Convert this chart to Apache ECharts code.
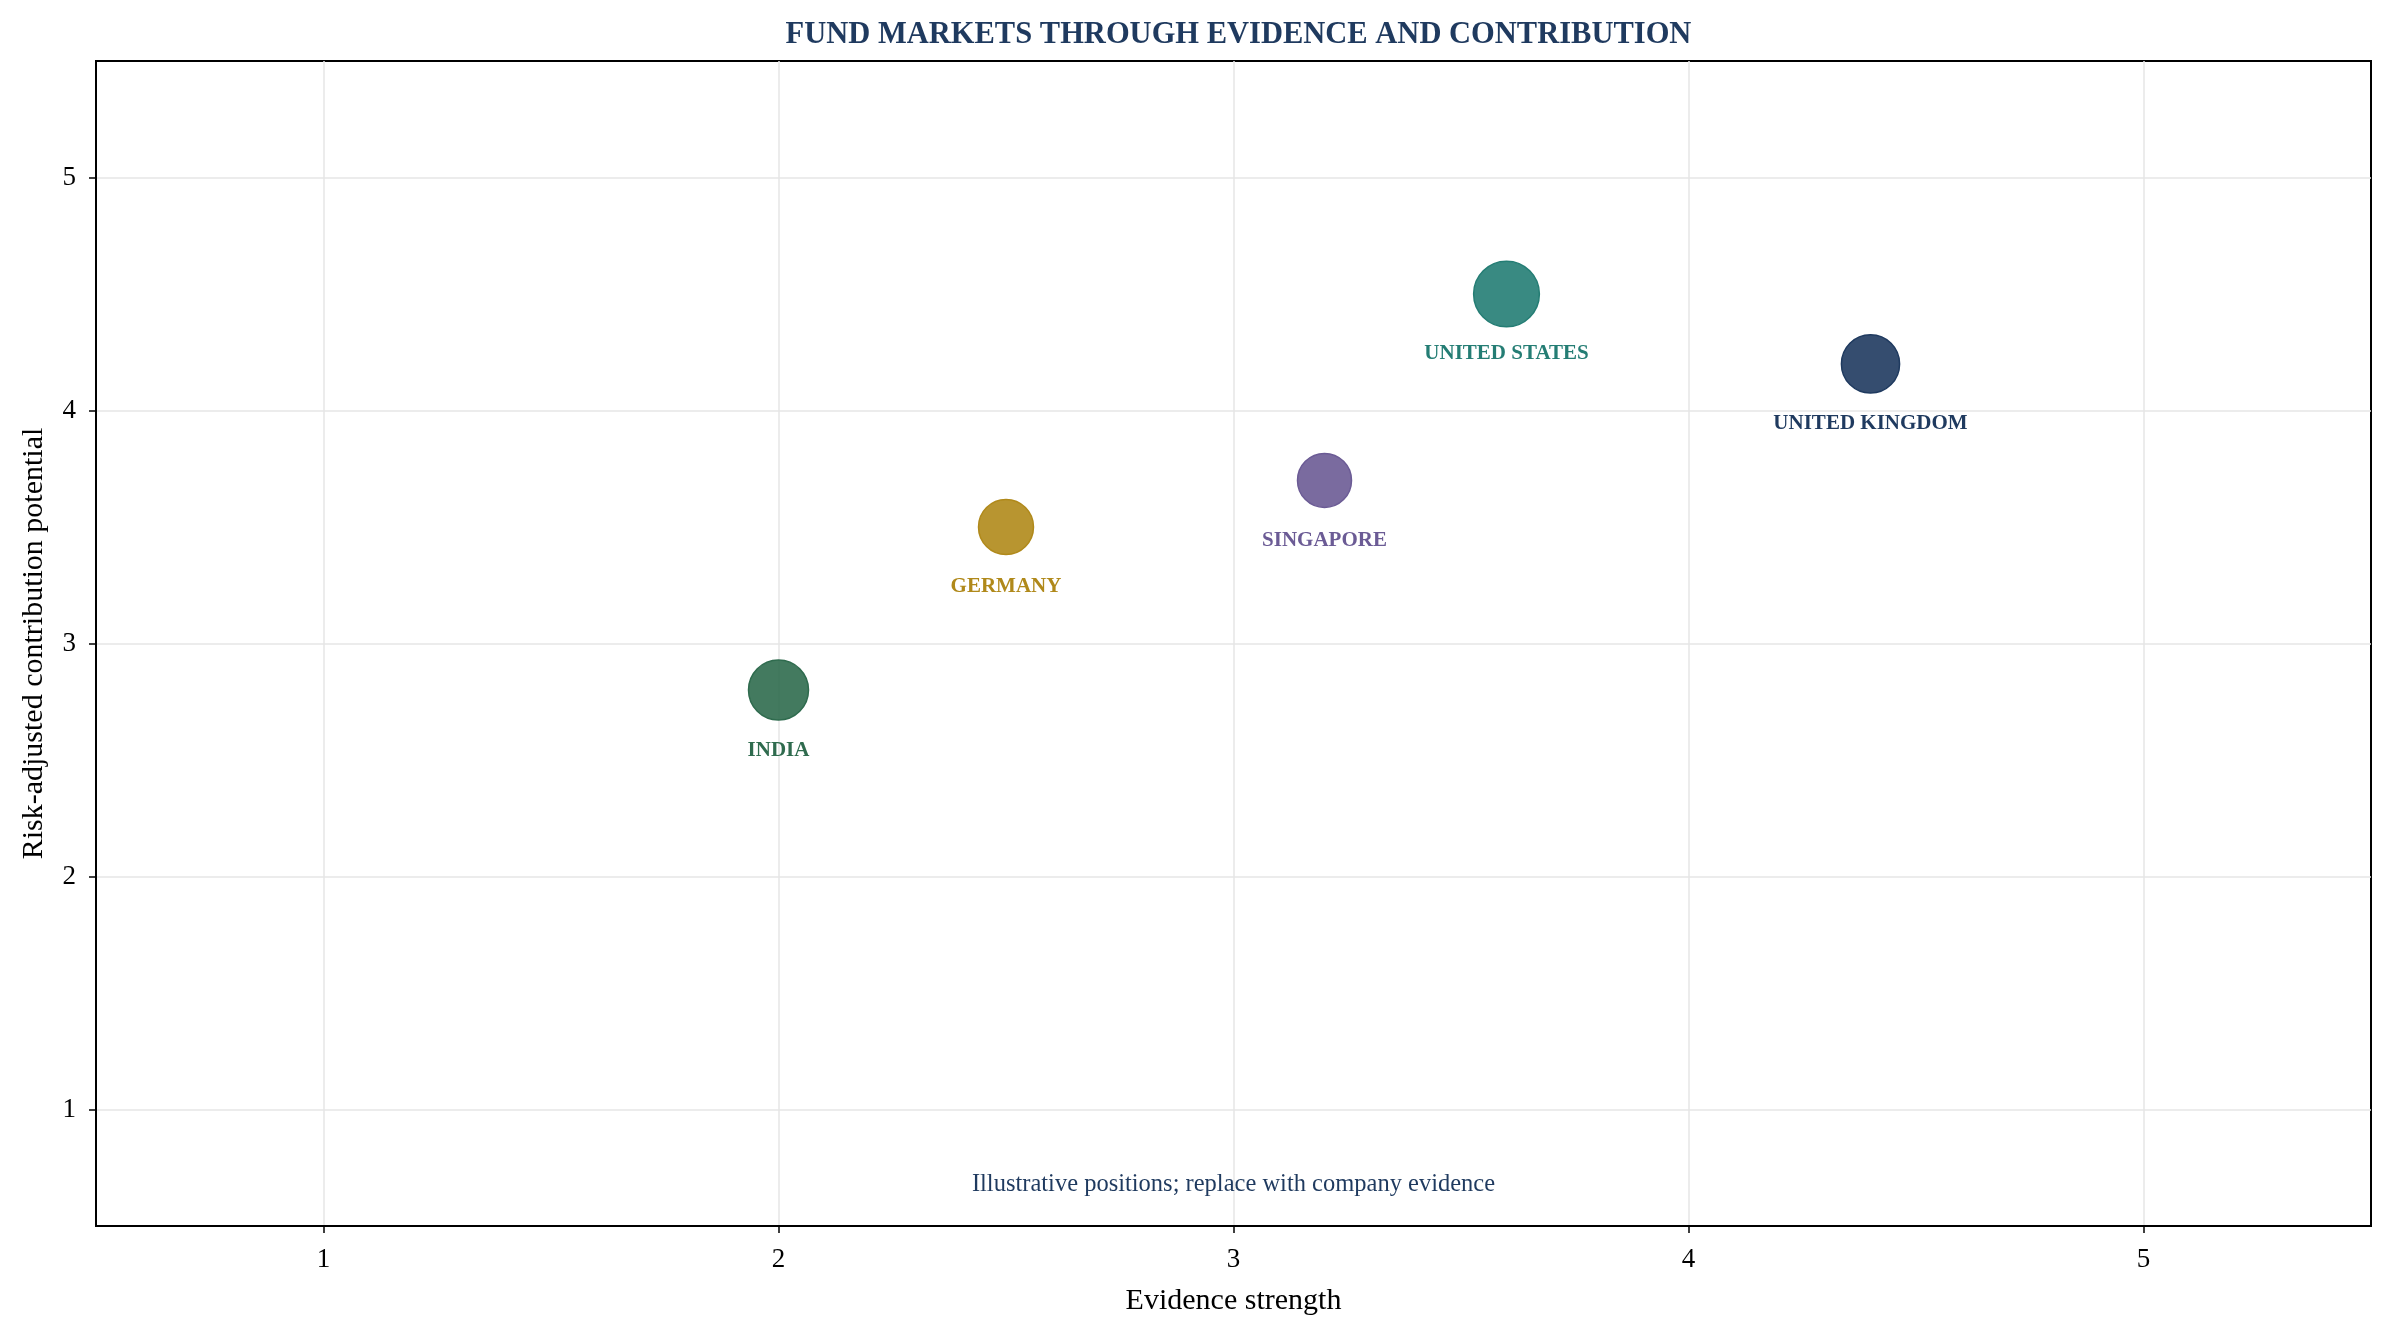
<!DOCTYPE html>
<html>
<head>
<meta charset="utf-8">
<script src="https://cdn.jsdelivr.net/npm/echarts@6/dist/echarts.min.js"></script>
<style>
  html, body { margin: 0; padding: 0; background: #ffffff; }
  #chart { width: 2394px; height: 1336px; }
</style>
</head>
<body>
<div id="chart"></div>
<script>
// ---- data ----
const markets = ['INDIA', 'GERMANY', 'SINGAPORE', 'UNITED STATES', 'UNITED KINGDOM'];
const evidenceStrength = [2.0, 2.5, 3.2, 3.6, 4.4];
const contributionPotential = [2.8, 3.5, 3.7, 4.5, 4.2];
const marketWeight = [100, 84, 81, 120, 94];
const marketColors = ['#2f6b4e', '#b0891a', '#6b5b95', '#247d74', '#1f3a5f'];
const tickValues = [1, 2, 3, 4, 5];

const titleText = 'FUND MARKETS THROUGH EVIDENCE AND CONTRIBUTION';
const xName = 'Evidence strength';
const yName = 'Risk-adjusted contribution potential';
const noteText = 'Illustrative positions; replace with company evidence';

const FONT = "'Liberation Serif', 'Times New Roman', Times, serif";
const NAVY = '#1f3a5f';
const PLOT_CENTER_X = (96 + 2371) / 2;

const chart = echarts.init(document.getElementById('chart'), null, { renderer: 'canvas' });

const points = markets.map((m, i) => ({
  name: m,
  value: [evidenceStrength[i], contributionPotential[i], marketWeight[i]],
  itemStyle: {
    color: echarts.color.modifyAlpha(marketColors[i], 0.9),
    borderColor: marketColors[i],
    borderWidth: 1.5,
    opacity: 1
  },
  label: { color: marketColors[i] }
}));

function axisCommon(name, nameGap, labelMargin) {
  return {
    type: 'value',
    min: 0.5,
    max: 5.5,
    name: name,
    nameLocation: 'middle',
    nameGap: nameGap,
    nameTextStyle: { fontFamily: FONT, fontSize: 30, color: '#000' },
    axisLine: { show: true, onZero: false, lineStyle: { color: '#000', width: 2 } },
    axisTick: {
      show: true, inside: false, length: 7,
      lineStyle: { color: '#000', width: 1.5 },
      customValues: tickValues
    },
    axisLabel: {
      fontFamily: FONT, fontSize: 27, color: '#000', margin: labelMargin,
      customValues: tickValues,
      formatter: v => String(v)
    },
    splitLine: { show: true, lineStyle: { color: '#e6e6e6', width: 1.5 } }
  };
}

const option = {
  backgroundColor: '#ffffff',
  animation: false,
  title: {
    text: titleText,
    left: PLOT_CENTER_X,
    textAlign: 'center',
    top: 15,
    textStyle: { fontFamily: FONT, fontSize: 30.5, fontWeight: 'bold', color: NAVY }
  },
  grid: {
    left: 96, right: 23, top: 61, bottom: 110,
    show: true, borderColor: '#000', borderWidth: 2, backgroundColor: 'transparent'
  },
  xAxis: axisCommon(xName, 60, 20),
  yAxis: axisCommon(yName, 47, 20),
  series: [{
    type: 'scatter',
    data: points,
    symbol: 'circle',
    symbolSize: v => 6 * Math.sqrt(v[2]),
    itemStyle: { opacity: 1 },
    label: {
      show: true,
      position: 'inside',
      offset: [0, 60],
      formatter: p => p.name,
      fontFamily: FONT,
      fontSize: 21,
      fontWeight: 'bold'
    },
    z: 3
  }],
  graphic: [{
    type: 'text',
    x: PLOT_CENTER_X,
    y: 1185,
    style: {
      text: noteText,
      fontFamily: FONT,
      fontSize: 24.5,
      fill: NAVY,
      align: 'center',
      verticalAlign: 'middle'
    },
    z: 10
  }]
};

chart.setOption(option);
</script>
</body>
</html>
